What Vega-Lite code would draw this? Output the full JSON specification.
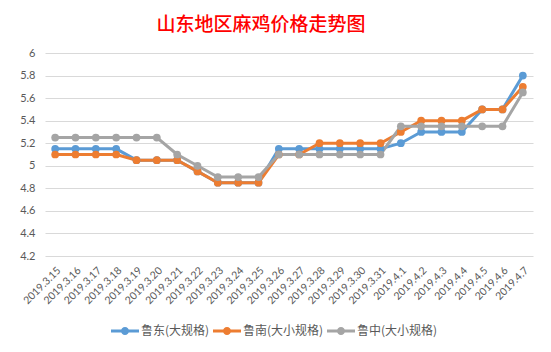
{
  "$schema": "https://vega.github.io/schema/vega-lite/v6.json",
  "width": 488,
  "height": 203,
  "autosize": {"type": "none"},
  "padding": {"left": 45, "top": 53, "right": 18, "bottom": 96},
  "background": "white",
  "title": {"text": "山东地区麻鸡价格走势图", "color": "#FF0000", "font": "Noto Sans CJK SC", "fontSize": 19, "fontWeight": 500, "anchor": "middle", "dx": -28, "offset": 12},
  "config": {"view": {"stroke": null}},
  "resolve": {"legend": {"color": "independent"}},
  "data": {"values": [
    {"date": "2019.3.15", "series": "鲁东(大规格)", "price": 5.15},
    {"date": "2019.3.16", "series": "鲁东(大规格)", "price": 5.15},
    {"date": "2019.3.17", "series": "鲁东(大规格)", "price": 5.15},
    {"date": "2019.3.18", "series": "鲁东(大规格)", "price": 5.15},
    {"date": "2019.3.19", "series": "鲁东(大规格)", "price": 5.05},
    {"date": "2019.3.20", "series": "鲁东(大规格)", "price": 5.05},
    {"date": "2019.3.21", "series": "鲁东(大规格)", "price": 5.05},
    {"date": "2019.3.22", "series": "鲁东(大规格)", "price": 4.95},
    {"date": "2019.3.23", "series": "鲁东(大规格)", "price": 4.85},
    {"date": "2019.3.24", "series": "鲁东(大规格)", "price": 4.85},
    {"date": "2019.3.25", "series": "鲁东(大规格)", "price": 4.85},
    {"date": "2019.3.26", "series": "鲁东(大规格)", "price": 5.15},
    {"date": "2019.3.27", "series": "鲁东(大规格)", "price": 5.15},
    {"date": "2019.3.28", "series": "鲁东(大规格)", "price": 5.15},
    {"date": "2019.3.29", "series": "鲁东(大规格)", "price": 5.15},
    {"date": "2019.3.30", "series": "鲁东(大规格)", "price": 5.15},
    {"date": "2019.3.31", "series": "鲁东(大规格)", "price": 5.15},
    {"date": "2019.4.1", "series": "鲁东(大规格)", "price": 5.2},
    {"date": "2019.4.2", "series": "鲁东(大规格)", "price": 5.3},
    {"date": "2019.4.3", "series": "鲁东(大规格)", "price": 5.3},
    {"date": "2019.4.4", "series": "鲁东(大规格)", "price": 5.3},
    {"date": "2019.4.5", "series": "鲁东(大规格)", "price": 5.5},
    {"date": "2019.4.6", "series": "鲁东(大规格)", "price": 5.5},
    {"date": "2019.4.7", "series": "鲁东(大规格)", "price": 5.8},
    {"date": "2019.3.15", "series": "鲁南(大小规格)", "price": 5.1},
    {"date": "2019.3.16", "series": "鲁南(大小规格)", "price": 5.1},
    {"date": "2019.3.17", "series": "鲁南(大小规格)", "price": 5.1},
    {"date": "2019.3.18", "series": "鲁南(大小规格)", "price": 5.1},
    {"date": "2019.3.19", "series": "鲁南(大小规格)", "price": 5.05},
    {"date": "2019.3.20", "series": "鲁南(大小规格)", "price": 5.05},
    {"date": "2019.3.21", "series": "鲁南(大小规格)", "price": 5.05},
    {"date": "2019.3.22", "series": "鲁南(大小规格)", "price": 4.95},
    {"date": "2019.3.23", "series": "鲁南(大小规格)", "price": 4.85},
    {"date": "2019.3.24", "series": "鲁南(大小规格)", "price": 4.85},
    {"date": "2019.3.25", "series": "鲁南(大小规格)", "price": 4.85},
    {"date": "2019.3.26", "series": "鲁南(大小规格)", "price": 5.1},
    {"date": "2019.3.27", "series": "鲁南(大小规格)", "price": 5.1},
    {"date": "2019.3.28", "series": "鲁南(大小规格)", "price": 5.2},
    {"date": "2019.3.29", "series": "鲁南(大小规格)", "price": 5.2},
    {"date": "2019.3.30", "series": "鲁南(大小规格)", "price": 5.2},
    {"date": "2019.3.31", "series": "鲁南(大小规格)", "price": 5.2},
    {"date": "2019.4.1", "series": "鲁南(大小规格)", "price": 5.3},
    {"date": "2019.4.2", "series": "鲁南(大小规格)", "price": 5.4},
    {"date": "2019.4.3", "series": "鲁南(大小规格)", "price": 5.4},
    {"date": "2019.4.4", "series": "鲁南(大小规格)", "price": 5.4},
    {"date": "2019.4.5", "series": "鲁南(大小规格)", "price": 5.5},
    {"date": "2019.4.6", "series": "鲁南(大小规格)", "price": 5.5},
    {"date": "2019.4.7", "series": "鲁南(大小规格)", "price": 5.7},
    {"date": "2019.3.15", "series": "鲁中(大小规格)", "price": 5.25},
    {"date": "2019.3.16", "series": "鲁中(大小规格)", "price": 5.25},
    {"date": "2019.3.17", "series": "鲁中(大小规格)", "price": 5.25},
    {"date": "2019.3.18", "series": "鲁中(大小规格)", "price": 5.25},
    {"date": "2019.3.19", "series": "鲁中(大小规格)", "price": 5.25},
    {"date": "2019.3.20", "series": "鲁中(大小规格)", "price": 5.25},
    {"date": "2019.3.21", "series": "鲁中(大小规格)", "price": 5.1},
    {"date": "2019.3.22", "series": "鲁中(大小规格)", "price": 5.0},
    {"date": "2019.3.23", "series": "鲁中(大小规格)", "price": 4.9},
    {"date": "2019.3.24", "series": "鲁中(大小规格)", "price": 4.9},
    {"date": "2019.3.25", "series": "鲁中(大小规格)", "price": 4.9},
    {"date": "2019.3.26", "series": "鲁中(大小规格)", "price": 5.1},
    {"date": "2019.3.27", "series": "鲁中(大小规格)", "price": 5.1},
    {"date": "2019.3.28", "series": "鲁中(大小规格)", "price": 5.1},
    {"date": "2019.3.29", "series": "鲁中(大小规格)", "price": 5.1},
    {"date": "2019.3.30", "series": "鲁中(大小规格)", "price": 5.1},
    {"date": "2019.3.31", "series": "鲁中(大小规格)", "price": 5.1},
    {"date": "2019.4.1", "series": "鲁中(大小规格)", "price": 5.35},
    {"date": "2019.4.2", "series": "鲁中(大小规格)", "price": 5.35},
    {"date": "2019.4.3", "series": "鲁中(大小规格)", "price": 5.35},
    {"date": "2019.4.4", "series": "鲁中(大小规格)", "price": 5.35},
    {"date": "2019.4.5", "series": "鲁中(大小规格)", "price": 5.35},
    {"date": "2019.4.6", "series": "鲁中(大小规格)", "price": 5.35},
    {"date": "2019.4.7", "series": "鲁中(大小规格)", "price": 5.65}
  ]},
  "encoding": {
    "x": {"field": "date", "type": "nominal", "sort": null, "scale": {"type": "point", "padding": 0.5},
      "axis": {"title": null, "labelAngle": -45, "labelFontSize": 10.5, "labelColor": "#595959", "labelFont": "Lato", "ticks": false, "domain": false, "grid": false, "labelPadding": 9}},
    "y": {"field": "price", "type": "quantitative", "scale": {"domain": [4.2, 6], "nice": false, "zero": false},
      "axis": {"title": null, "values": [4.2, 4.4, 4.6, 4.8, 5, 5.2, 5.4, 5.6, 5.8, 6], "format": "~g", "labelFontSize": 11, "labelFont": "Lato", "labelColor": "#595959", "ticks": false, "domain": false, "gridColor": "#D9D9D9", "gridWidth": 1, "labelPadding": 10}}
  },
  "layer": [
    {"mark": {"type": "line", "strokeWidth": 3},
      "encoding": {"color": {"field": "series", "type": "nominal", "legend": null,
        "scale": {"domain": ["鲁东(大规格)", "鲁南(大小规格)", "鲁中(大小规格)"], "range": ["#5B9BD5", "#ED7D31", "#A5A5A5"]}}}},
    {"mark": {"type": "circle", "size": 60, "opacity": 1},
      "encoding": {"color": {"field": "series", "type": "nominal",
        "scale": {"domain": ["鲁东(大规格)", "鲁南(大小规格)", "鲁中(大小规格)"], "range": ["#5B9BD5", "#ED7D31", "#A5A5A5"]},
        "legend": {"orient": "none", "legendX": 66, "legendY": 264, "direction": "horizontal", "title": null,
          "symbolType": "M-1,-0.1L1,-0.1L1,0.1L-1,0.1Z M-0.29,0A0.29,0.29 0 1 1 0.29,0A0.29,0.29 0 1 1 -0.29,0Z",
          "symbolSize": 784, "symbolStrokeWidth": 0, "symbolOpacity": 1,
          "labelFontSize": 12, "labelColor": "#595959", "labelFont": "Noto Sans CJK SC", "columnPadding": 3, "labelOffset": 2}}}}
  ]
}
